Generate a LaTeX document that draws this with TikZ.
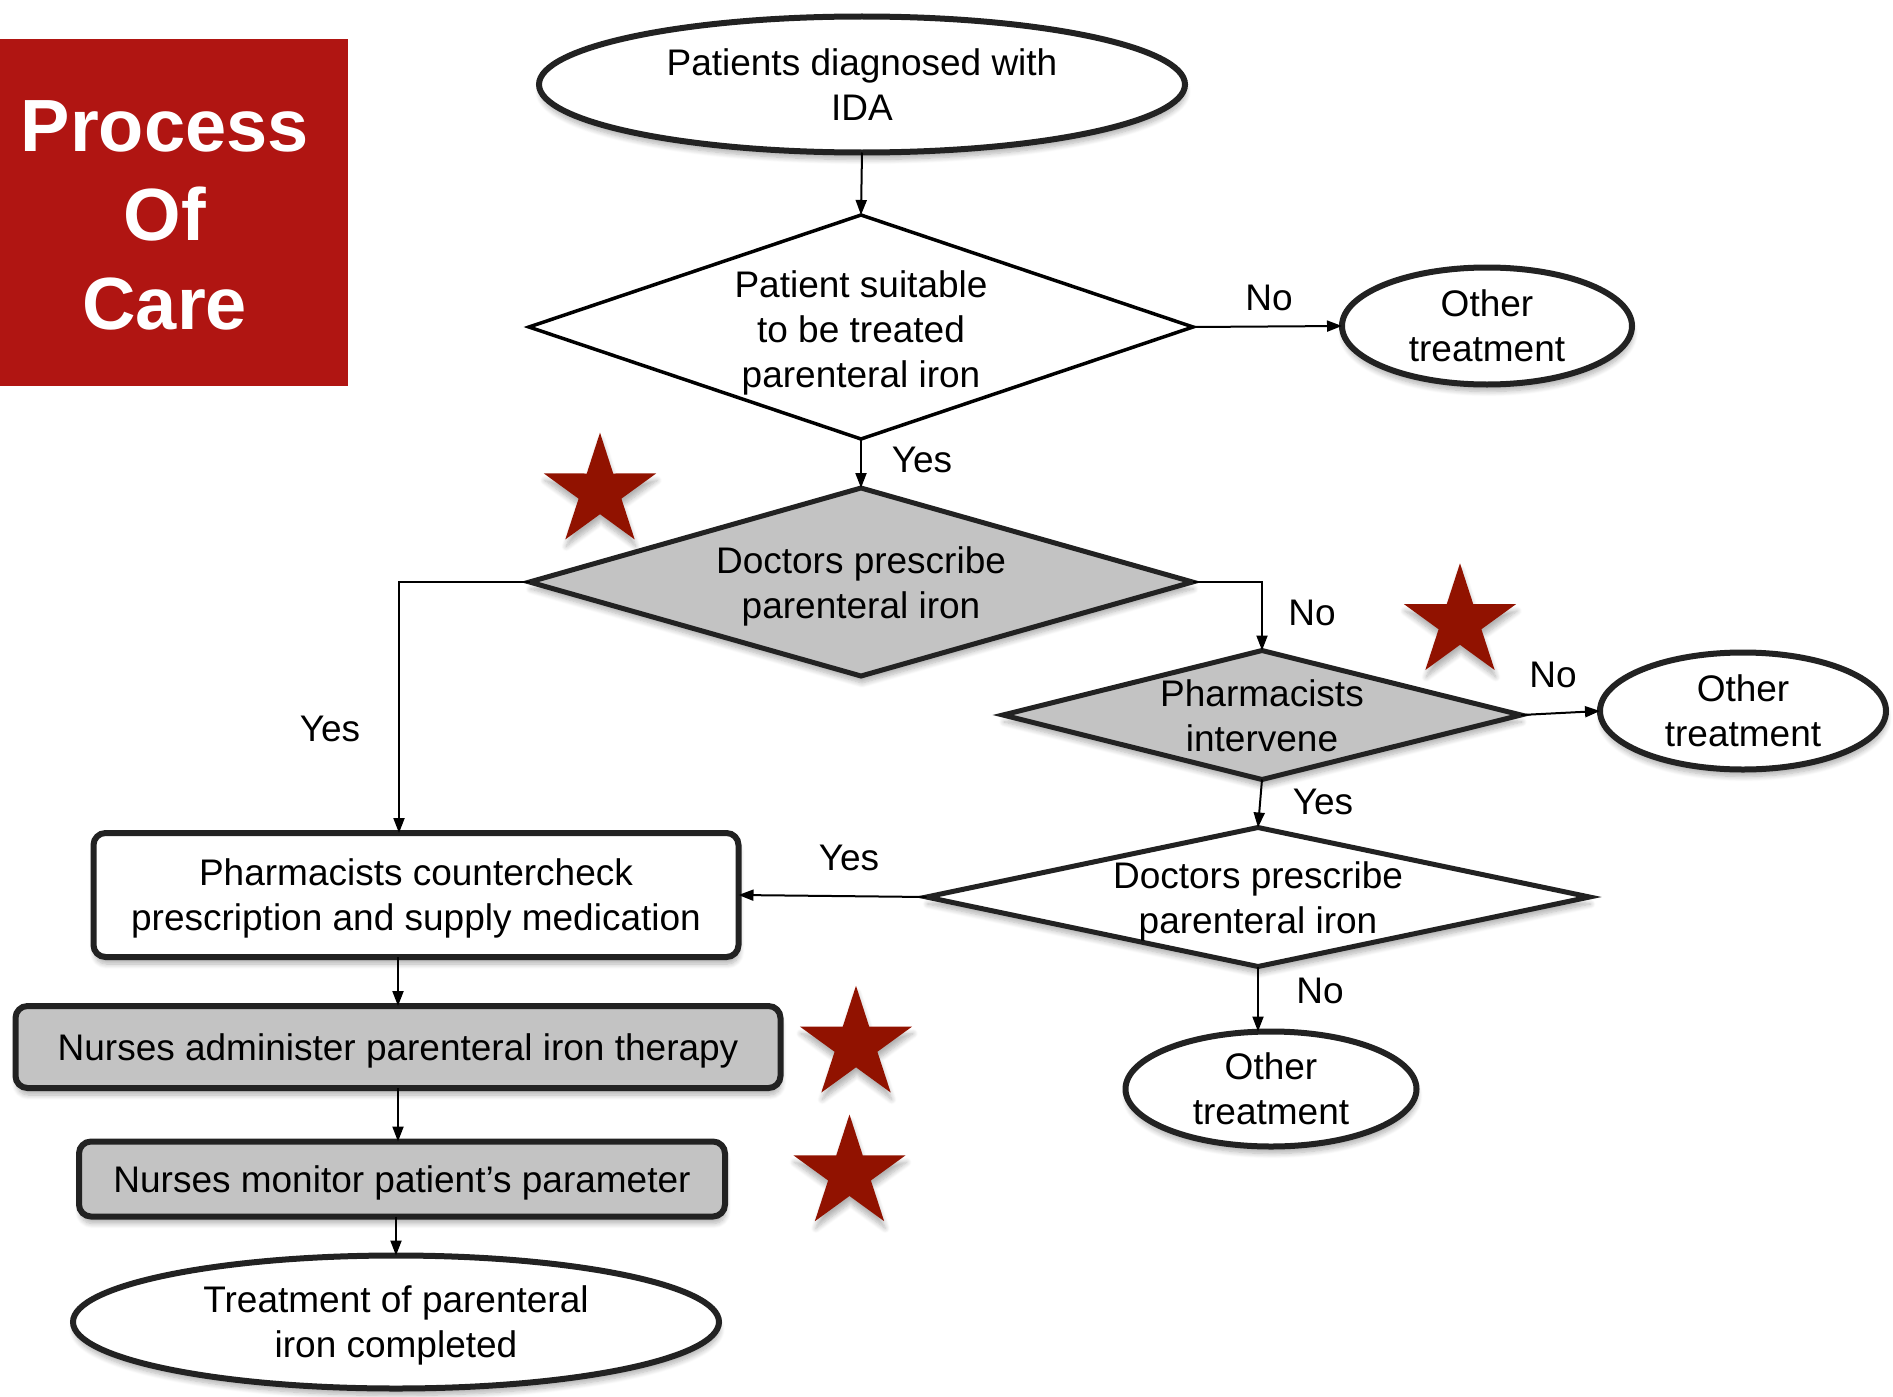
\documentclass[tikz,border=0pt]{standalone}
\usepackage{fontspec}
\setmainfont{Liberation Sans}
\usetikzlibrary{shapes.geometric,arrows.meta,shadows.blur}
\definecolor{titlered}{RGB}{176,21,18}
\definecolor{starred}{RGB}{145,18,0}
\definecolor{boxgray}{RGB}{195,195,195}
\definecolor{edgedark}{RGB}{34,34,34}
\newcommand\drawstar[1]{%
  \fill[starred, shd] (#1) +(270:59) -- +(306:22.5) -- +(342:59) -- +(18:22.5) -- +(54:59)
    -- +(90:22.5) -- +(126:59) -- +(162:22.5) -- +(198:59) -- +(234:22.5) -- cycle;}
\begin{document}
\begin{tikzpicture}[x=1pt,y=-1pt,
  every node/.style={inner sep=0pt, outer sep=0pt},
  txt/.style={font=\fontsize{37}{45}\selectfont, align=center, text=black},
  dtxt/.style={txt, text depth=0pt},
  shd/.style={blur shadow={shadow xshift=1pt, shadow yshift=-7pt, shadow blur steps=8, shadow blur radius=5pt, shadow opacity=30}},
  term/.style={ellipse, draw=edgedark, line width=6pt, fill=white, shd, txt},
  dia/.style={diamond, draw=edgedark, line width=5pt, fill=boxgray, shd},
  diaw/.style={diamond, draw=black, line width=3.5pt, fill=white},
  proc/.style={rectangle, rounded corners=12pt, draw=edgedark, line width=6pt, shd, dtxt},
  arr/.style={-{Triangle[length=15pt,width=11pt]}, line width=2pt, black},
  lab/.style={txt},
  titletxt/.style={font=\fontsize{74}{89}\selectfont\bfseries, text=white, align=center},
]
\useasboundingbox (0,0) rectangle (1893,1397);

% title
\node[fill=titlered, anchor=north west, minimum width=348pt, minimum height=347.4pt] (title) at (0,38.6) {};
\node[titletxt] (titlet) at (164.8,215) {Process\\Of\\Care};

% terminals
\node[term, minimum width=646pt, minimum height=136pt] (e1) at (862,84.5) {Patients diagnosed with\\IDA};
\node[term, minimum width=290pt, minimum height=117pt] (o1) at (1487,326) {Other\\treatment};
\node[term, minimum width=286pt, minimum height=117pt] (o2) at (1743,711) {Other\\treatment};
\node[term, minimum width=291pt, minimum height=115pt] (o3) at (1271,1089) {Other\\treatment};
\node[term, dtxt, minimum width=646pt, minimum height=133pt] (e5) at (396,1322) {Treatment of parenteral\\iron completed};

% decisions
\node[diaw, minimum width=664pt, minimum height=224pt] (d1) at (861,327) {};
\node[dtxt] (d1t) at ([yshift=-2pt]d1.center) {Patient suitable\\to be treated\\parenteral iron};
\node[dia, minimum width=663pt, minimum height=188pt] (d2) at (861,582) {};
\node[dtxt] (d2t) at ([yshift=-1pt]d2.center) {Doctors prescribe\\parenteral iron};
\node[dia, minimum width=518pt, minimum height=129pt] (d3) at (1262,715) {};
\node[dtxt] (d3t) at ([yshift=-1pt]d3.center) {Pharmacists\\intervene};
\node[dia, fill=white, minimum width=663pt, minimum height=139pt] (d4) at (1258,897) {};
\node[dtxt] (d4t) at ([yshift=-1pt]d4.center) {Doctors prescribe\\parenteral iron};

% process boxes
\node[proc, fill=white, minimum width=645pt, minimum height=124pt] (b1) at (416,895) {Pharmacists countercheck\\prescription and supply medication};
\node[proc, fill=boxgray, minimum width=765pt, minimum height=82pt] (b2) at (398,1047) {Nurses administer parenteral iron therapy};
\node[proc, fill=boxgray, minimum width=646pt, minimum height=75pt] (b3) at (402,1179) {Nurses monitor patient’s parameter};

% connectors
\draw[arr] (e1.south) -- (d1.north);
\draw[arr] (d1.east) -- (o1.west);
\draw[arr] (d1.south) -- (d2.north);
\draw[arr] (d2.west) -| ([xshift=-17pt]b1.north);
\draw[arr] (d2.east) -| (d3.north);
\draw[arr] (d3.east) -- (o2.west);
\draw[arr] (d3.south) -- (d4.north);
\draw[arr] (d4.west) -- (b1.east);
\draw[arr] (d4.south) -- (d4.south |- o3.north);
\draw[arr] (b2.north |- b1.south) -- (b2.north);
\draw[arr] (b2.south) -- (b2.south |- b3.north);
\draw[arr] (e5.north |- b3.south) -- (e5.north);

% labels
\node[lab] (l1) at (1269,298) {No};
\node[lab] (l2) at (922,460) {Yes};
\node[lab] (l3) at (330,729) {Yes};
\node[lab] (l4) at (1312,613) {No};
\node[lab] (l5) at (1553,675) {No};
\node[lab] (l6) at (1323,802) {Yes};
\node[lab] (l7) at (849,858) {Yes};
\node[lab] (l8) at (1320,991) {No};

% stars
\coordinate (s1) at (600,491.7);
\coordinate (s2) at (1460,622.3);
\coordinate (s3) at (856,1044.8);
\coordinate (s4) at (849.5,1173.5);
\drawstar{s1}
\drawstar{s2}
\drawstar{s3}
\drawstar{s4}
\end{tikzpicture}
\end{document}
